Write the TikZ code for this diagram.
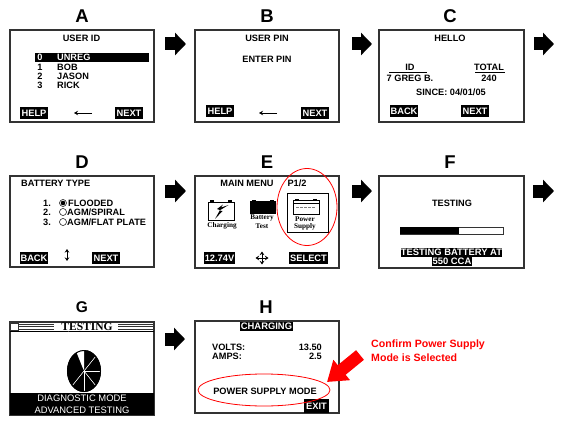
\documentclass[tikz,border=0pt]{standalone}
\usepackage{fontspec}
\setmainfont{Liberation Sans}
\newfontfamily\serifbold{Liberation Serif}
\usetikzlibrary{arrows.meta}
\definecolor{frameC}{HTML}{333333}
\definecolor{redC}{HTML}{FF0000}
\tikzset{
  screen/.style={draw=frameC,line width=1.3pt,fill=white,anchor=north west,outer sep=0pt,inner sep=0pt,minimum width=144pt,minimum height=92pt},
  title/.style={font=\fontsize{18.5}{18.5}\selectfont\bfseries,inner sep=0pt},
  lbl/.style={font=\fontsize{9.2}{9.2}\selectfont\bfseries,inner sep=0pt},
  lbll/.style={lbl,anchor=west},
  lblr/.style={lbl,anchor=east},
  btn/.style={fill=black,text=white,font=\fontsize{9.3}{9.3}\selectfont\bfseries,inner sep=0pt,minimum height=12pt,minimum width=28pt},
  icn/.style={font=\serifbold\fontsize{7.2}{7.2}\selectfont\bfseries,inner sep=0pt},
  blk/.style={line width=13pt,draw=black,-{Triangle[length=11pt,width=22pt]},shorten <=11pt,shorten >=9pt},
  thinarr/.style={line width=.9pt,-{Stealth[length=4pt,width=4.5pt]}},
  redring/.style={draw=redC,line width=.8pt},
}
\begin{document}
\begin{tikzpicture}[x=1pt,y=-1pt]
\useasboundingbox (0,0) rectangle (564,425);
\fill[white] (0,0) rectangle (564,425);

% titles
\node[title] (tA) at (82,16) {A};
\node[title] (tB) at (267,16) {B};
\node[title] (tC) at (450,16) {C};
\node[title] (tD) at (82,162) {D};
\node[title] (tE) at (267,162) {E};
\node[title] (tF) at (450,162) {F};
\node[title,font=\fontsize{15.5}{15.5}\selectfont\bfseries] (tG) at (82,307) {G};
\node[title] (tH) at (266,307) {H};

% screens
\node[screen] (A) at (10,30) {};
\node[screen] (B) at (195,30) {};
\node[screen,minimum width=145pt] (C) at (379,30) {};
\node[screen,minimum height=91pt] (D) at (10,176) {};
\node[screen] (E) at (195,176) {};
\node[screen,minimum width=145pt] (F) at (379,176) {};
\node[screen,minimum height=93pt] (G) at (10,322) {};
\node[screen] (H) at (195,321) {};

% free ends
\coordinate (Cout) at (563,44);
\coordinate (Fout) at (563,191);

% block arrows
\draw[blk] ([yshift=-14pt]A.north east) -- ([yshift=-14pt]B.north west);
\draw[blk,shorten <=13pt,shorten >=7pt] ([yshift=-14pt]B.north east) -- ([yshift=-14pt]C.north west);
\draw[blk,shorten <=10pt,shorten >=9pt] ([yshift=-14pt]C.north east) -- (Cout);
\draw[blk] ([yshift=-15pt]D.north east) -- ([yshift=-15pt]E.north west);
\draw[blk,shorten <=13pt,shorten >=7pt] ([yshift=-15pt]E.north east) -- ([yshift=-15pt]F.north west);
\draw[blk,shorten <=9pt,shorten >=9pt] ([yshift=-15pt]F.north east) -- (Fout);
\draw[blk,shorten >=10pt] ([yshift=-17pt]G.north east) -- ([yshift=-18pt]H.north west);

% --- A
\node[lbl] (a0) at (81.5,38) {USER ID};
\fill[black] (35,53) rectangle (149,62);
\node[lbl,text=white] (a1) at (40,57.5) {0};
\node[lbll,text=white] (a2) at (57,57.5) {UNREG};
\node[lbl] (a3) at (40,67) {1};
\node[lbll] (a4) at (57,67) {BOB};
\node[lbl] (a5) at (40,76) {2};
\node[lbll] (a6) at (57,76) {JASON};
\node[lbl] (a7) at (40,85.5) {3};
\node[lbll] (a8) at (57,85.5) {RICK};
\node[btn] (a9) at (34,113) {HELP};
\node[btn] (a10) at (129,113) {NEXT};
\coordinate (aL) at (74,113); \coordinate (aR) at (92,113);
\draw[thinarr] (aR) -- (aL);

% --- B
\node[lbl] (b0) at (267,38) {USER PIN};
\node[lbl] (b1) at (267,59) {ENTER PIN};
\node[btn] (b2) at (220,111) {HELP};
\node[btn] (b3) at (315,113) {NEXT};
\coordinate (bL) at (259,113); \coordinate (bR) at (277,113);
\draw[thinarr] (bR) -- (bL);

% --- C
\node[lbl] (c0) at (450,38) {HELLO};
\node[lbl] (c1) at (410,67) {ID};
\node[lbl] (c2) at (410,78) {7 GREG B.};
\node[lbl] (c3) at (489,67) {TOTAL};
\node[lbl] (c4) at (489,78) {240};
\node[lbl] (c5) at (451,92) {SINCE: 04/01/05};
\draw[line width=.8pt] (389,72.5) -- (427,72.5);
\draw[line width=.8pt] (475,72.5) -- (505,72.5);
\node[btn] (c6) at (404,111) {BACK};
\node[btn] (c7) at (475,111) {NEXT};

% --- D
\node[lbll] (d0) at (21,183) {BATTERY TYPE};
\node[lbll] (d1) at (43,203) {1.};
\node[lbll] (d2) at (43,212) {2.};
\node[lbll] (d3) at (43,222) {3.};
\node[lbll] (d4) at (68,203) {FLOODED};
\node[lbll] (d5) at (67,212) {AGM/SPIRAL};
\node[lbll] (d6) at (67,222) {AGM/FLAT PLATE};
\draw[line width=.5pt] (63,203) circle (3.5);
\fill[black] (63,203) circle (2.3);
\draw[line width=.5pt] (63,212) circle (3.5);
\draw[line width=.5pt] (63,222) circle (3.5);
\node[btn] (d7) at (34,258) {BACK};
\node[btn] (d8) at (106,258) {NEXT};
\coordinate (dT) at (67,249); \coordinate (dB) at (67,261);
\draw[line width=.9pt,{Stealth[length=3.5pt,width=4.5pt]}-{Stealth[length=3.5pt,width=4.5pt]}] (dT) -- (dB);

% --- E
\node[lbl] (e0) at (247,183) {MAIN MENU};
\node[lbl] (e1) at (297,183) {P1/2};
% charging icon
\draw[line width=.7pt] (208,202) rectangle (234,220);
\fill (210,200) rectangle (214,202);
\fill (228,200) rectangle (232,202);
\fill (215,219) -- (222.5,211) -- (219.5,210.5) -- (228.5,205) -- (221,207.5) -- (223,204.5) -- (217,209) -- (220,210) -- cycle;
\node[icn] (e2) at (222,226) {Charging};
% battery icon
\fill[black] (250,201) rectangle (276,214);
\fill (252,200) rectangle (256,201);
\fill (270,200) rectangle (274,201);
\node[icn] (e3) at (262,218) {Battery};
\node[icn] (e4) at (262,226) {Test};
% power icon
\node[draw=black,line width=1pt,anchor=north west,inner sep=0pt,minimum width=41pt,minimum height=39pt] (e5) at (287,193) {};
\draw[line width=.8pt] (293,200) rectangle (319,214);
\fill (295,199) rectangle (299,200);
\fill (313,199) rectangle (317,200);
\draw[line width=.7pt] (293,203) -- (319,203);
\draw[line width=.7pt,gray,dash pattern=on 3pt off 1pt] (296,207) -- (316,207);
\node[icn] (e6) at (305,219) {Power};
\node[icn] (e7) at (305,226.5) {Supply};
\node[btn,minimum width=31pt] (e8) at (219.5,258) {12.74V};
\node[btn,minimum width=39pt] (e9) at (308.5,258) {SELECT};
\coordinate (eL) at (255.5,258); \coordinate (eR) at (268.5,258);
\coordinate (eT) at (262,251.5); \coordinate (eB) at (262,264.5);
\draw[line width=.9pt,{Stealth[length=3.5pt,width=4.5pt]}-{Stealth[length=3.5pt,width=4.5pt]}] (eL) -- (eR);
\draw[line width=.9pt,{Stealth[length=3.5pt,width=4.5pt]}-{Stealth[length=3.5pt,width=4.5pt]}] (eT) -- (eB);
\draw[redring] (307,207) circle[x radius=30,y radius=38.5];

% --- F
\node[lbl] (f0) at (452,203) {TESTING};
\draw[line width=.6pt,frameC] (400,227) rectangle (503,234);
\fill[black] (400,227) rectangle (459,234);
\node[fill=black,text=white,font=\fontsize{9.4}{9.4}\selectfont\bfseries,inner sep=0pt,minimum width=101pt,minimum height=9pt] (f1) at (451.5,252.5) {TESTING BATTERY AT};
\node[fill=black,text=white,font=\fontsize{9.4}{9.4}\selectfont\bfseries,inner sep=0pt,minimum width=40pt,minimum height=9pt] (f2) at (452,261.5) {550 CCA};

% --- G
\fill[white] (11,323) rectangle (153,332);
\draw[line width=.6pt,frameC,fill=white] (10.5,323) rectangle (18,330);
\foreach \yy in {324.2,326.6,329}{
  \draw[line width=1pt,frameC] (18,\yy) -- (54,\yy);
  \draw[line width=1pt,frameC] (118,\yy) -- (154,\yy);
}
\draw[line width=.8pt,black] (10,331.5) -- (154,331.5);
\node[inner sep=0pt,font=\serifbold\fontsize{11.5}{11.5}\selectfont\bfseries] (g0) at (87,327) {TESTING};
\fill[black] (84,371) ellipse[x radius=17,y radius=21];
\fill[white] (84,371) -- (84,351) arc[start angle=90,end angle=180,x radius=16,y radius=20] -- cycle;
\draw[black,line width=.6pt] (84,371) -- (73,357);
\foreach \dx/\dy in {0/21,12/-15,17/0,12/15,-12/15}{
  \draw[white,line width=.6pt] (84,371) -- ++(\dx,\dy);
}
\draw[black,line width=1pt] (84,371) ellipse[x radius=16.5,y radius=20.5];
\fill[black] (10,393) rectangle (154,415);
\node[inner sep=0pt,text=white,font=\fontsize{9.4}{9.4}\selectfont] (g1) at (82,398.5) {DIAGNOSTIC MODE};
\node[inner sep=0pt,text=white,font=\fontsize{9.4}{9.4}\selectfont] (g2) at (82,410) {ADVANCED TESTING};

% --- H
\node[fill=black,text=white,font=\fontsize{9.4}{9.4}\selectfont\bfseries,inner sep=0pt,minimum width=53pt,minimum height=9pt] (h0) at (266.5,326.5) {CHARGING};
\node[lbll] (h1) at (212,347) {VOLTS:};
\node[lbll] (h2) at (212,356) {AMPS:};
\node[lblr] (h3) at (322,347) {13.50};
\node[lblr] (h4) at (322,356) {2.5};
\node[lbl] (h5) at (265,391) {POWER SUPPLY MODE};
\node[btn,minimum width=25pt,minimum height=14pt] (h6) at (316.5,406) {EXIT};
\draw[redring] (264,390) circle[x radius=66,y radius=16];
\node[anchor=west,inner sep=0pt,text=redC,font=\fontsize{10.6}{10.6}\selectfont\bfseries] (r1) at (371,345) {Confirm Power Supply};
\node[anchor=west,inner sep=0pt,text=redC,font=\fontsize{10.6}{10.6}\selectfont\bfseries] (r2) at (371,358) {Mode is Selected};
\coordinate (rT) at (360,355); \coordinate (rH) at (327,382);
\draw[redC,line width=12.4pt,-{Triangle[length=19pt,width=25pt]}] (rT) -- (rH);
\end{tikzpicture}
\end{document}
